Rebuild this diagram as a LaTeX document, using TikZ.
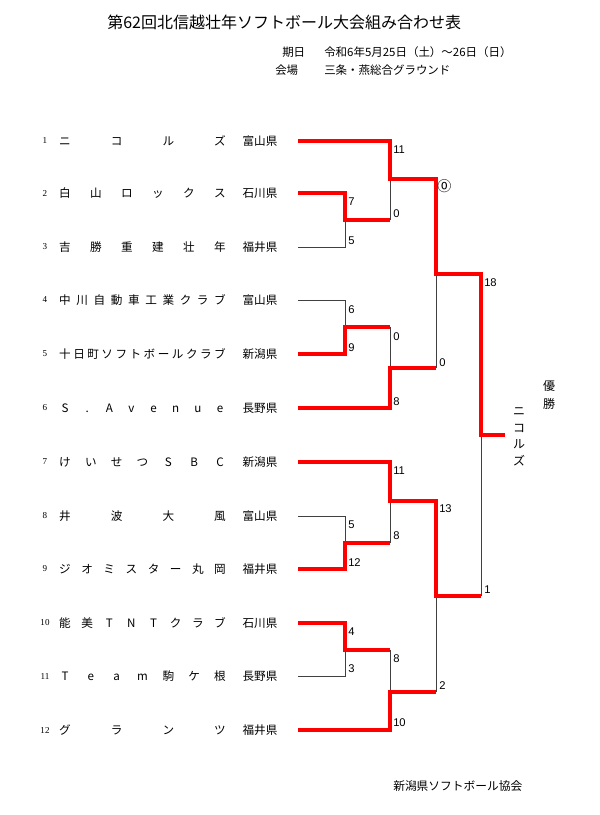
\documentclass[tikz,border=0pt]{standalone}
\usepackage{fontspec}
\setmainfont{Noto Sans CJK JP}
\newfontfamily\scorefont{Liberation Sans}
\newfontfamily\numfont{Liberation Serif}
\begin{document}
\begin{tikzpicture}[x=0.75pt,y=-0.75pt,
  win/.style={draw=red, line width=2.4pt},
  lose/.style={draw=black!75, line width=0.75pt},
  namechar/.style={font=\fontsize{8.7}{10}\selectfont, inner sep=0pt, text height=7.2pt, text depth=1.5pt},
  prefnode/.style={font=\fontsize{8.7}{10}\selectfont, inner sep=0pt, text height=7.2pt, text depth=1.5pt},
  rownum/.style={font=\numfont\fontsize{6.8}{8}\selectfont, inner sep=0pt},
  hdr/.style={font=\fontsize{8.6}{10}\selectfont, anchor=west, inner sep=0pt},
  score/.style={font=\scorefont\fontsize{8.4}{10}\selectfont, anchor=west, inner sep=0pt},
]
\useasboundingbox (0,0) rectangle (600,815);

% title and header
\node[anchor=west, inner sep=0pt, font=\fontsize{12}{14}\selectfont] (title) at (107,22) {第62回北信越壮年ソフトボール大会組み合わせ表};
\node[hdr] (kijitsu) at (282,52) {期日};
\node[hdr] (date) at (324,52) {令和6年5月25日（土）～26日（日）};
\node[hdr] (kaijo) at (275,70) {会場};
\node[hdr] (venue) at (324,70) {三条・燕総合グラウンド};

% teams
\foreach \r/\y/\n/\name/\pref in {
  1/141/4/{ニ,コ,ル,ズ}/富山県,
  2/193/6/{白,山,ロ,ッ,ク,ス}/石川県,
  3/247/6/{吉,勝,重,建,壮,年}/福井県,
  4/300/10/{中,川,自,動,車,工,業,ク,ラ,ブ}/富山県,
  5/354/12/{十,日,町,ソ,フ,ト,ボ,ー,ル,ク,ラ,ブ}/新潟県,
  6/408/8/{S,.,A,v,e,n,u,e}/長野県,
  7/462/7/{け,い,せ,つ,S,B,C}/新潟県,
  8/516/4/{井,波,大,風}/富山県,
  9/569/8/{ジ,オ,ミ,ス,タ,ー,丸,岡}/福井県,
  10/623/8/{能,美,T,N,T,ク,ラ,ブ}/石川県,
  11/676/7/{T,e,a,m,駒,ケ,根}/長野県,
  12/730/4/{グ,ラ,ン,ツ}/福井県}
{
  \node[rownum] (num\r) at (45,\y) {\r};
  \foreach \c [count=\i] in \name {
    \node[namechar] (t\r c\i) at ({65+(\i-1)*155/(\n-1)},\y+1) {\c};
  }
  \node[prefnode] (pref\r) at (260,\y+1) {\pref};
  \coordinate (L\r) at (298,\y);
}

% bracket junctions
\coordinate (m23) at (345,220);
\coordinate (m45) at (345,327);
\coordinate (m89) at (345,543);
\coordinate (m1011) at (345,650);
\coordinate (r1) at (390,179);
\coordinate (r2) at (390,368);
\coordinate (r3) at (390,501);
\coordinate (r4) at (390,692);
\coordinate (s1) at (436,274);
\coordinate (s2) at (436,596);
\coordinate (f) at (481,435);
\coordinate (fe) at (505,435);

% losing lines
\draw[lose] (L3) -| (m23);
\draw[lose] (m23 -| r1) -- (r1);
\draw[lose] (L4) -| (m45);
\draw[lose] (m45 -| r2) -- (r2);
\draw[lose] (r2 -| s1) -- (s1);
\draw[lose] (L8) -| (m89);
\draw[lose] (m89 -| r3) -- (r3);
\draw[lose] (L11) -| (m1011);
\draw[lose] (m1011 -| r4) -- (r4);
\draw[lose] (r4 -| s2) -- (s2);
\draw[lose] (s2 -| f) -- (f);

% winning lines
\draw[win] (L1) -| (r1) -| (s1) -| (f) -- (fe);
\draw[win] (L2) -| (m23) -- (m23 -| r1);
\draw[win] (L5) -| (m45) -- (m45 -| r2);
\draw[win] (L6) -| (r2) -- (r2 -| s1);
\draw[win] (L7) -| (r3) -| (s2) -- (s2 -| f);
\draw[win] (L9) -| (m89) -- (m89 -| r3);
\draw[win] (L10) -| (m1011) -- (m1011 -| r4);
\draw[win] (L12) -| (r4) -- (r4 -| s2);

% scores round 1
\node[score] (sc2) at (348,202) {7};
\node[score] (sc3) at (348,241) {5};
\node[score] (sc4) at (348,310) {6};
\node[score] (sc5) at (348,348) {9};
\node[score] (sc8) at (348,525) {5};
\node[score] (sc9) at (348,563) {12};
\node[score] (sc10) at (348,632) {4};
\node[score] (sc11) at (348,669) {3};
% round 2
\node[score] (sd1) at (393,150) {11};
\node[score] (sd2) at (393,214) {0};
\node[score] (sd3) at (393,337) {0};
\node[score] (sd4) at (393,402) {8};
\node[score] (sd5) at (393,471) {11};
\node[score] (sd6) at (393,536) {8};
\node[score] (sd7) at (393,659) {8};
\node[score] (sd8) at (393,723) {10};
% round 3
\node[score, font=\fontsize{10.5}{12}\selectfont] (se1) at (437,186) {⓪};
\node[score] (se2) at (439,363) {0};
\node[score] (se3) at (439,509) {13};
\node[score] (se4) at (439,686) {2};
% final
\node[score] (sf1) at (484,283) {18};
\node[score] (sf2) at (484,590) {1};

% champion
\node[font=\fontsize{9}{13.5}\selectfont, align=center, inner sep=0pt] (yusho) at (549,395) {優\\勝};
\node[font=\fontsize{9}{12.5}\selectfont, align=center, inner sep=0pt] (champ) at (519,437) {ニ\\コ\\ル\\ズ};

% footer
\node[anchor=west, inner sep=0pt, font=\fontsize{8.8}{10}\selectfont] (assoc) at (393,786) {新潟県ソフトボール協会};
\end{tikzpicture}
\end{document}
